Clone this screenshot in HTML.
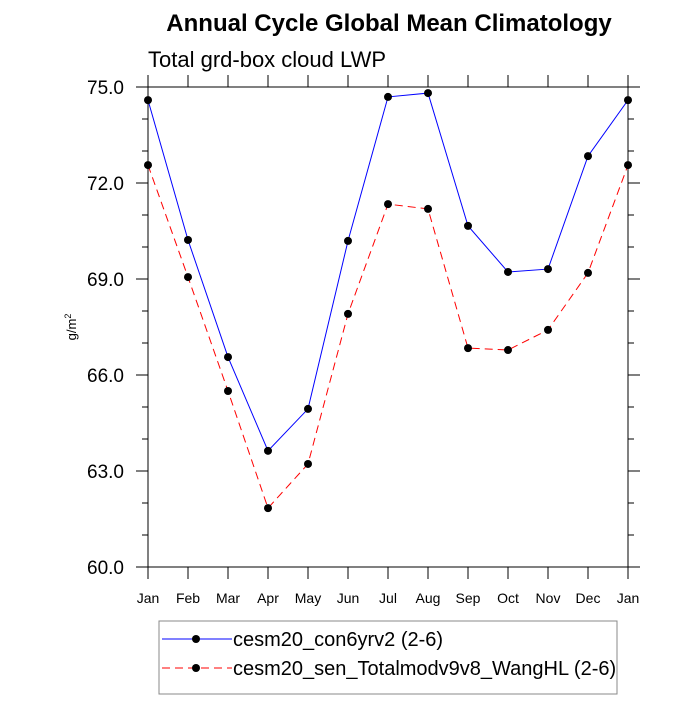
<!DOCTYPE html>
<html><head><meta charset="utf-8"><style>
body{margin:0;background:#fff;}
svg text{font-family:"Liberation Sans",sans-serif;}
</style></head><body>
<svg id="chart" width="700" height="700" xmlns="http://www.w3.org/2000/svg">
<text x="389" y="31" text-anchor="middle" font-size="24" font-weight="bold">Annual Cycle Global Mean Climatology</text>
<text x="148" y="67" font-size="22">Total grd-box cloud LWP</text>
<text transform="translate(76,327) rotate(-90)" text-anchor="middle" font-size="13">g/m<tspan dy="-5" font-size="9">2</tspan></text>
<rect x="148" y="87" width="480" height="480" fill="none" stroke="#000" stroke-width="1"/>
<g id="axes"></g>
<g id="series"></g>
<g>
<rect x="159" y="621" width="458" height="73" fill="none" stroke="#888"/>
<line x1="162" y1="639" x2="232" y2="639" stroke="#0000ff"/>
<circle cx="196" cy="639" r="4" fill="#000"/>
<text x="233" y="646" font-size="20">cesm20_con6yrv2 (2-6)</text>
<line x1="162" y1="668" x2="232" y2="668" stroke="#ff0000" stroke-dasharray="8,5"/>
<circle cx="196" cy="668" r="4" fill="#000"/>
<text x="233" y="675" font-size="20">cesm20_sen_Totalmodv9v8_WangHL (2-6)</text>
</g>
</svg>
<script>
const months=["Jan","Feb","Mar","Apr","May","Jun","Jul","Aug","Sep","Oct","Nov","Dec","Jan"];
const ctrl=[74.59,70.22,66.56,63.63,64.94,70.19,74.69,74.81,70.66,69.22,69.31,72.84,74.59];
const sens=[72.56,69.06,65.5,61.84,63.22,67.91,71.34,71.19,66.84,66.78,67.41,69.19,72.56];
const yTicks=[60,63,66,69,72,75];
const NS="http://www.w3.org/2000/svg";
const X0=148,X1=628,Y0=567,Y1=87,YMIN=60,YMAX=75;
const xs=i=>X0+(X1-X0)*i/(months.length-1);
const ys=v=>Y0-(v-YMIN)/(YMAX-YMIN)*(Y0-Y1);
function mk(t,a,p){const e=document.createElementNS(NS,t);for(const k in a)e.setAttribute(k,a[k]);p.appendChild(e);return e;}
const ax=document.getElementById('axes');
months.forEach((m,i)=>{
 const x=xs(i);
 mk('line',{x1:x,y1:Y0,x2:x,y2:Y0+12,stroke:'#000'},ax);
 mk('line',{x1:x,y1:Y1,x2:x,y2:Y1-12,stroke:'#000'},ax);
 const t=mk('text',{x:x,y:603,'text-anchor':'middle','font-size':14},ax);
 t.textContent=m;
 
 
});
for(let v=YMIN;v<=YMAX+1e-6;v+=1){
 const y=ys(v);
 mk('line',{x1:X0,y1:y,x2:X0-6,y2:y,stroke:'#000'},ax);
 mk('line',{x1:X1,y1:y,x2:X1+6,y2:y,stroke:'#000'},ax);
}
yTicks.forEach(v=>{
 const y=ys(v);
 mk('line',{x1:X0,y1:y,x2:X0-12,y2:y,stroke:'#000'},ax);
 mk('line',{x1:X1,y1:y,x2:X1+12,y2:y,stroke:'#000'},ax);
 const t=mk('text',{x:X0-24,y:y+7,'text-anchor':'end','font-size':19},ax);
 t.textContent=v.toFixed(1);
 
 
});
const sg=document.getElementById('series');
function draw(vals,color,dash,name){
 const pl=mk('polyline',{points:vals.map((v,i)=>xs(i)+','+ys(v)).join(' '),fill:'none',stroke:color,'stroke-width':1,'stroke-dasharray':dash},sg);
 
 
 vals.forEach((v,i)=>{
  const c=mk('circle',{cx:xs(i),cy:ys(v),r:4,fill:'#000'},sg);
  
  
 });
}
draw(sens,'#ff0000','8,5','sensitivity');
draw(ctrl,'#0000ff','none','control');
</script>
</body></html>
